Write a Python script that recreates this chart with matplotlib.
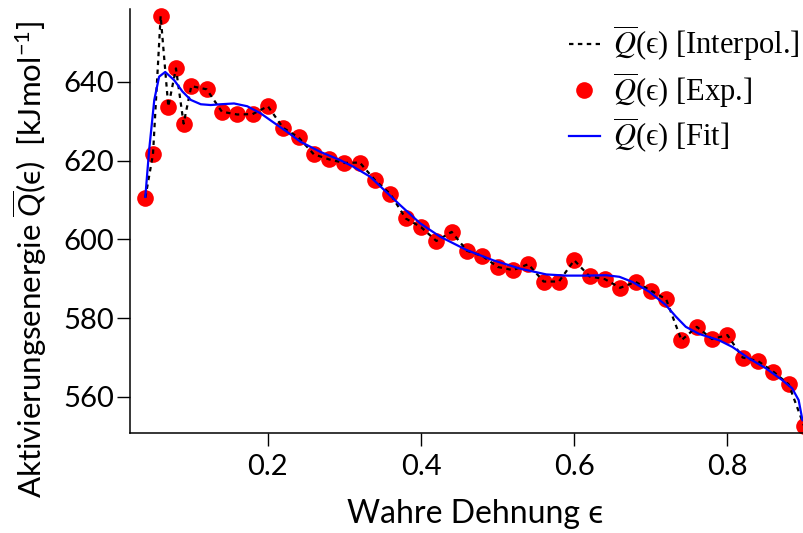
import matplotlib
matplotlib.use("Agg")
import matplotlib.pyplot as plt
from matplotlib.font_manager import FontProperties
from matplotlib.lines import Line2D

# Experimental data (true strain, activation energy)
eps_exp = [0.04, 0.05, 0.06, 0.07, 0.08, 0.09, 0.10, 0.12, 0.14, 0.16, 0.18, 0.20,
           0.22, 0.24, 0.26, 0.28, 0.30, 0.32, 0.34, 0.36, 0.38, 0.40, 0.42, 0.44,
           0.46, 0.48, 0.50, 0.52, 0.54, 0.56, 0.58, 0.60, 0.62, 0.64, 0.66, 0.68,
           0.70, 0.72, 0.74, 0.76, 0.78, 0.80, 0.82, 0.84, 0.86, 0.88, 0.90]
q_exp = [610.6, 621.6, 656.7, 633.7, 643.4, 629.4, 638.9, 638.1, 632.4, 631.7, 631.8, 633.8,
         628.3, 625.9, 621.6, 620.3, 619.4, 619.5, 615.0, 611.5, 605.3, 603.1, 599.6, 601.9,
         597.1, 595.8, 593.0, 592.2, 593.7, 589.3, 589.3, 594.7, 590.6, 589.9, 587.7, 589.2,
         587.0, 584.8, 574.4, 577.8, 574.7, 575.7, 570.0, 569.1, 566.4, 563.2, 552.7]

# Fit curve
eps_fit = [0.040, 0.045, 0.0517, 0.058, 0.066, 0.0777, 0.0886, 0.0994, 0.1124, 0.1254,
           0.1385, 0.1558, 0.173, 0.1905, 0.208, 0.225, 0.2425, 0.2686, 0.2946, 0.312,
           0.3336, 0.3727, 0.3987, 0.4247, 0.4595, 0.494, 0.5288, 0.5636, 0.5896, 0.6156,
           0.6416, 0.659, 0.676, 0.698, 0.7197, 0.7327, 0.7457, 0.763, 0.789, 0.8064,
           0.828, 0.85, 0.8714, 0.8845, 0.893, 0.898]
q_fit = [610.8, 622.7, 635.4, 641.3, 642.5, 640.4, 637.5, 635.4, 634.3, 634.1,
         634.3, 634.5, 633.8, 632.0, 629.6, 627.3, 624.8, 622.2, 620.1, 618.4,
         615.9, 608.7, 604.1, 600.7, 597.3, 594.7, 592.6, 591.1, 590.8, 590.8,
         590.9, 590.5, 589.2, 586.7, 583.3, 580.4, 577.8, 576.0, 574.4, 572.7,
         569.8, 567.3, 564.3, 562.2, 559.2, 554.1]

x_ticks = [0.2, 0.4, 0.6, 0.8]
y_ticks = [560, 580, 600, 620, 640]

plt.rcParams['mathtext.fontset'] = 'custom'
plt.rcParams['mathtext.rm'] = 'Lato'
plt.rcParams['mathtext.it'] = 'Lato:italic'
plt.rcParams['font.family'] = ['Lato', 'DejaVu Sans']

fig = plt.figure(figsize=(8.04, 5.33), dpi=100)
ax = fig.add_axes([0.1617, 0.188, 0.8383, 0.796])

ax.plot(eps_exp, q_exp, 'o', color='#ff0000', markersize=12, markeredgewidth=0, zorder=2, clip_on=False)
ax.plot(eps_exp, q_exp, color='black', linestyle=(0, (2, 2)), linewidth=1.6, zorder=3)
ax.plot(eps_fit, q_fit, color='#0000ff', linewidth=1.6, zorder=4)

ax.set_xlim(0.02, 0.9)
ax.set_ylim(550.9, 658.6)
ax.set_xticks(x_ticks)
ax.set_xticklabels([f"{t:.1f}" for t in x_ticks])
ax.set_yticks(y_ticks)
ax.set_yticklabels([str(t) for t in y_ticks])

for s in ['top', 'right']:
    ax.spines[s].set_visible(False)
for s in ['left', 'bottom']:
    ax.spines[s].set_linewidth(1.1)
ax.tick_params(axis='both', direction='out', length=9.5, width=1.0, labelsize=21)
ax.tick_params(axis='x', pad=6)
ax.tick_params(axis='y', pad=2)

ax.set_xlabel('Wahre Dehnung ϵ', fontsize=23)
ax.xaxis.set_label_coords(0.512, -0.155)
ax.set_ylabel(r'Aktivierungsenergie $\overline{Q}$(ϵ)  [kJmol$^{-1}$]', fontsize=22.5)
ax.yaxis.set_label_coords(-0.12, 0.409)

h_int = Line2D([], [], color='black', linestyle=(0, (2, 2)), linewidth=1.6)
h_exp = Line2D([], [], color='#ff0000', marker='o', linestyle='none', markersize=12, markeredgewidth=0)
h_fit = Line2D([], [], color='#0000ff', linewidth=1.6)
lp = FontProperties(family=['Liberation Serif', 'DejaVu Serif'], size=22, math_fontfamily='stix')
leg = ax.legend([h_int, h_exp, h_fit],
                [r'$\overline{Q}$(ϵ) [Interpol.]', r'$\overline{Q}$(ϵ) [Exp.]', r'$\overline{Q}$(ϵ) [Fit]'],
                loc='upper right', frameon=False, prop=lp, handlelength=1.0, handletextpad=0.43,
                labelspacing=0.22, borderaxespad=0.0, borderpad=0.15, bbox_to_anchor=(1.0, 0.975))

fig.savefig('out.png', dpi=100)
